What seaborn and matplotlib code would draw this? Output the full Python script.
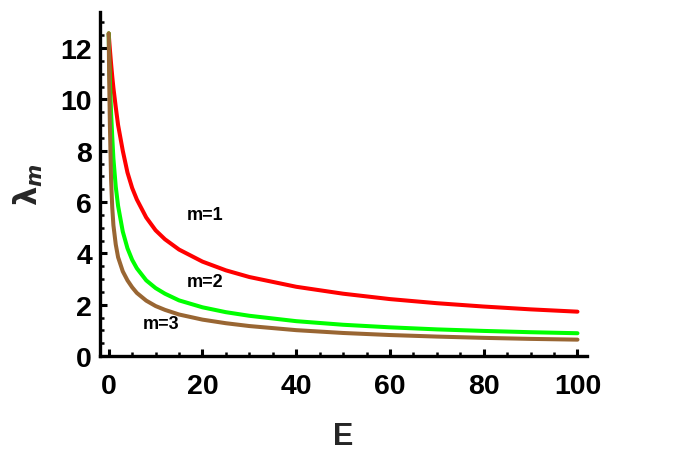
import numpy as np
import pandas as pd
import matplotlib
matplotlib.use("Agg")
import matplotlib.pyplot as plt
from matplotlib.ticker import MultipleLocator
import seaborn as sns

# Sample energies and the coupling values of the three modes
energy = [0, 0.1, 0.25, 0.5, 0.75, 1, 1.5, 2, 3, 4, 5, 6, 8, 10, 12, 15,
          20, 25, 30, 40, 50, 60, 70, 80, 90, 100]
lambda_m1 = [12.57, 12.30, 11.95, 11.40, 10.90, 10.45, 9.70, 9.00, 8.00, 7.15,
             6.55, 6.10, 5.40, 4.90, 4.55, 4.15, 3.68, 3.34, 3.08, 2.70,
             2.43, 2.22, 2.06, 1.93, 1.82, 1.73]
lambda_m2 = [12.57, 11.60, 10.70, 9.50, 8.55, 7.70, 6.60, 5.85, 4.85, 4.20,
             3.75, 3.42, 2.95, 2.65, 2.43, 2.17, 1.90, 1.71, 1.57, 1.36,
             1.22, 1.12, 1.04, 0.98, 0.93, 0.89]
lambda_m3 = [12.57, 10.80, 9.00, 6.90, 5.80, 5.10, 4.35, 3.85, 3.30, 2.95,
             2.68, 2.46, 2.16, 1.95, 1.80, 1.62, 1.42, 1.28, 1.17, 1.01,
             0.90, 0.82, 0.76, 0.71, 0.67, 0.64]
mode_labels = ["m=1", "m=2", "m=3"]
label_pos = [(20.5, 5.5), (20.5, 2.9), (11.2, 1.25)]
colors = ["#ff0000", "#00ff00", "#996633"]

df = pd.concat([
    pd.DataFrame({"E": energy, "lam": vals, "mode": lab})
    for vals, lab in zip([lambda_m1, lambda_m2, lambda_m3], mode_labels)
], ignore_index=True)

sns.set_style("ticks")
plt.rcParams["font.family"] = ["Liberation Sans", "DejaVu Sans"]
plt.rcParams["font.weight"] = "bold"

fig = plt.figure(figsize=(6.73, 4.52), dpi=100)
ax = fig.add_axes([0.149, 0.21, 0.723, 0.761])

sns.lineplot(data=df, x="E", y="lam", hue="mode", palette=colors,
             linewidth=2.9, ax=ax, legend=False, sort=False)

for lab, (xe, yl) in zip(mode_labels, label_pos):
    ax.text(xe, yl, lab, fontsize=13, fontweight="bold", ha="center",
            va="center", color="black")

ax.set_xlim(-1.8, 102)
ax.set_ylim(0, 13.4)
ax.xaxis.set_major_locator(MultipleLocator(20))
ax.xaxis.set_minor_locator(MultipleLocator(5))
ax.yaxis.set_major_locator(MultipleLocator(2))
ax.yaxis.set_minor_locator(MultipleLocator(0.5))

for side in ["top", "right"]:
    ax.spines[side].set_visible(False)
for side in ["left", "bottom"]:
    ax.spines[side].set_linewidth(2.4)
    ax.spines[side].set_color("black")

ax.tick_params(which="major", direction="in", length=5, width=2.2,
               labelsize=20.5, colors="black")
ax.tick_params(axis="x", which="major", pad=12)
ax.tick_params(axis="y", which="major", pad=6)
ax.tick_params(which="minor", direction="in", length=3, width=1.8,
               colors="black")
for t in ax.get_xticklabels() + ax.get_yticklabels():
    t.set_fontweight("bold")

ax.set_xlabel("E", fontsize=22, fontweight="bold", labelpad=16)
ax.set_ylabel(r"$\boldsymbol{\lambda}_m$", fontsize=22, labelpad=11)

fig.savefig("out.png", dpi=100)
